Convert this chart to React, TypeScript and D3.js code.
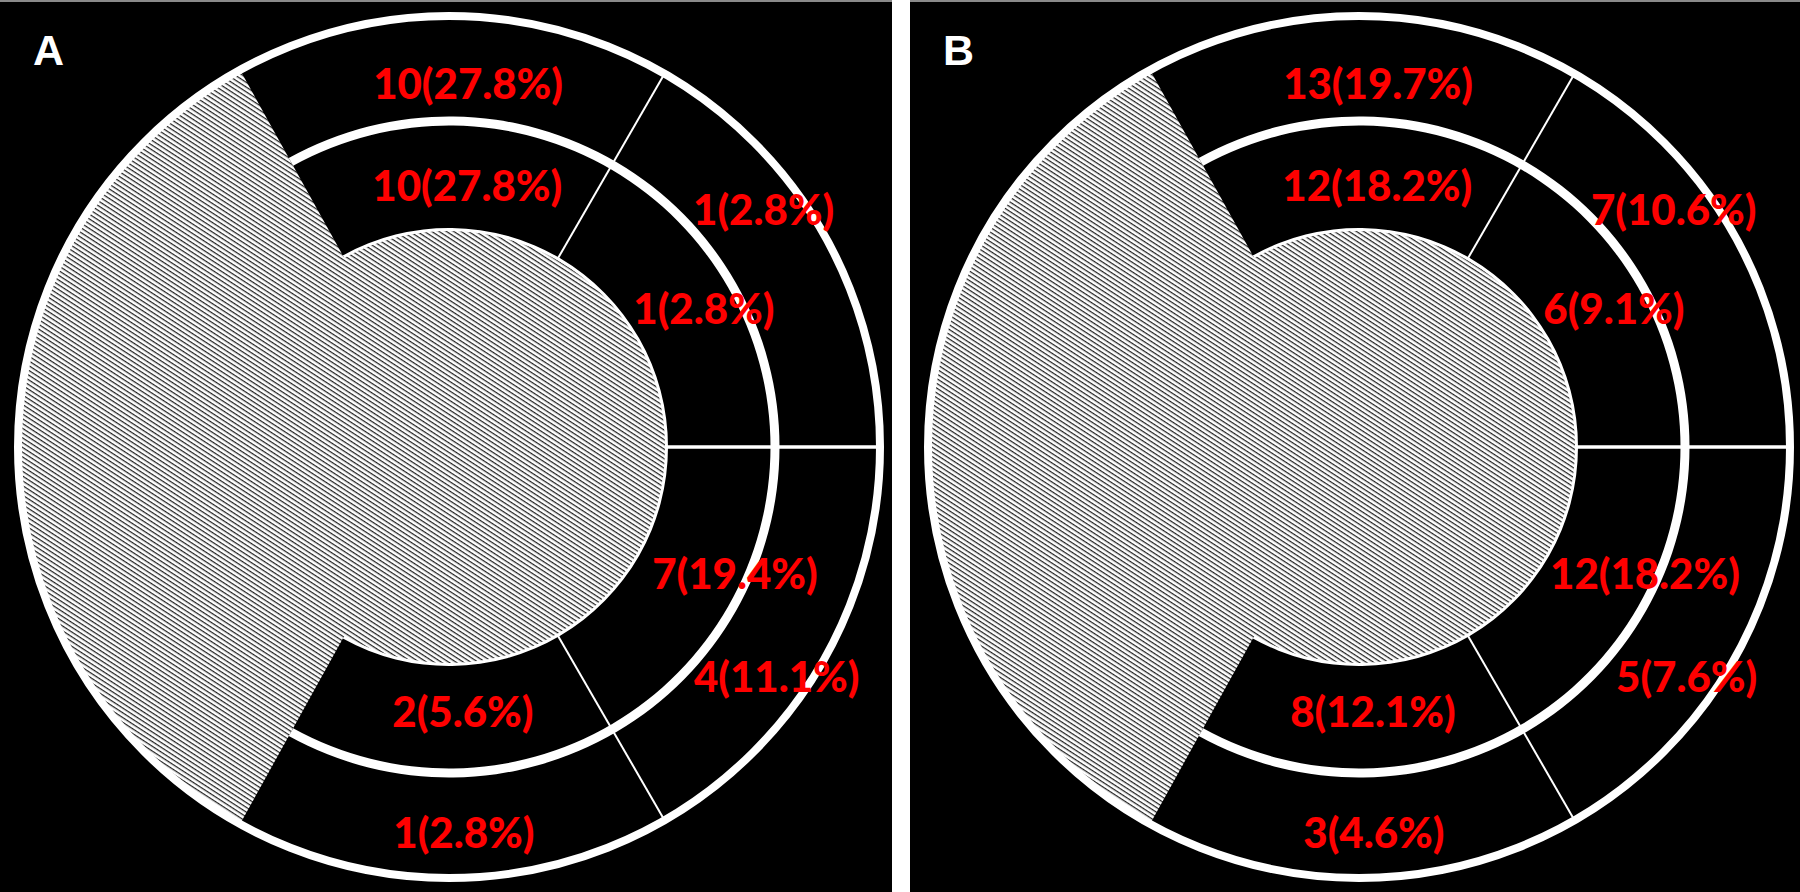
import React from "react";
import * as d3 from "d3";

// ---- data ----
const panelLetters = ["A", "B"];
const sectorNames = ["top", "upper right", "lower right", "bottom"];
const outerCountsA = [10, 1, 4, 1];
const outerPctA = [27.8, 2.8, 11.1, 2.8];
const middleCountsA = [10, 1, 7, 2];
const middlePctA = [27.8, 2.8, 19.4, 5.6];
const outerCountsB = [13, 7, 5, 3];
const outerPctB = [19.7, 10.6, 7.6, 4.6];
const middleCountsB = [12, 6, 12, 8];
const middlePctB = [18.2, 9.1, 18.2, 12.1];

// ---- layout ----
const W = 1800;
const H = 892;
const panels = [
  { x: 0, w: 892, letter: panelLetters[0], outer: outerCountsA, outerPct: outerPctA, middle: middleCountsA, middlePct: middlePctA },
  { x: 910, w: 890, letter: panelLetters[1], outer: outerCountsB, outerPct: outerPctB, middle: middleCountsB, middlePct: middlePctB },
];
const CX = 449;
const CY = 447;
const radius = d3.scaleOrdinal<string, number>().domain(["core", "middle", "outer"]).range([217, 326, 431]);
// 6 slots of 60 degrees starting at -30deg; slots 0..3 are data sectors, 4..5 hatched
const angle = d3.scaleLinear().domain([0, 6]).range([-Math.PI / 6, 2 * Math.PI - Math.PI / 6]);
const hatchInset = (1 * Math.PI) / 180; // hatched wedge edges sit ~1deg inside the slot bounds
// label anchors [angle deg, radius px]
const labelLayout: Record<string, [number, number][]> = {
  middle: [[4, 262], [61.5, 290], [114, 313], [177, 265]],
  outer: [[3, 364], [53, 394], [125, 400], [177.8, 386]],
};

const fmt = (n: number, p: number) => `${n}(${p.toFixed(1)}%)`;

function Panel({ p, idx }: { p: (typeof panels)[number]; idx: number }) {
  const arc = d3.arc<any>();
  const rCore = radius("core");
  const rMid = radius("middle");
  const rOut = radius("outer");
  const a0 = angle(0) + hatchInset;
  const a4 = angle(4) - hatchInset;
  const hatchDisc = arc({ innerRadius: 0, outerRadius: rCore, startAngle: 0, endAngle: 2 * Math.PI })!;
  const hatchWedge = arc({ innerRadius: 0, outerRadius: rOut, startAngle: a4, endAngle: a0 + 2 * Math.PI })!;
  const midLine = arc({ innerRadius: rMid - 4.5, outerRadius: rMid + 4.5, startAngle: a0, endAngle: a4 })!;
  const coreLine = arc({ innerRadius: rCore - 1, outerRadius: rCore + 2, startAngle: a0, endAngle: a4 })!;
  const dividers = [1, 2, 3].map((i) => {
    const a = angle(i);
    return {
      x1: Math.sin(a) * rCore,
      y1: -Math.cos(a) * rCore,
      x2: Math.sin(a) * rOut,
      y2: -Math.cos(a) * rOut,
      w: i === 2 ? 3.5 : 2,
    };
  });
  const labels: { text: string; x: number; y: number; key: string }[] = [];
  (["middle", "outer"] as const).forEach((ring) => {
    const counts = ring === "middle" ? p.middle : p.outer;
    const pcts = ring === "middle" ? p.middlePct : p.outerPct;
    sectorNames.forEach((s, i) => {
      const [deg, r] = labelLayout[ring][i];
      const a = (deg * Math.PI) / 180;
      labels.push({ key: ring + s, text: fmt(counts[i], pcts[i]), x: Math.sin(a) * r, y: -Math.cos(a) * r });
    });
  });
  return (
    <g transform={`translate(${p.x},0)`}>
      <rect x={0} y={0} width={p.w} height={H} fill="#000" />
      <rect x={0} y={0} width={p.w} height={2} fill="#8a8a8a" />
      <text x={33} y={65} fill="#fff" fontFamily="Liberation Sans, Arial, sans-serif" fontWeight="bold" fontSize={43}>
        {p.letter}
      </text>
      <g transform={`translate(${CX},${CY})`}>
        <path d={hatchWedge} fill={`url(#hatch${idx})`} />
        <path d={hatchDisc} fill={`url(#hatch${idx})`} />
        <path d={coreLine} fill="#fff" />
        <path d={midLine} fill="#fff" />
        <circle r={rOut} fill="none" stroke="#fff" strokeWidth={8} />
        {dividers.map((d, i) => (
          <line key={i} x1={d.x1} y1={d.y1} x2={d.x2} y2={d.y2} stroke="#fff" strokeWidth={d.w} />
        ))}
        {labels.map((l) => (
          <text
            key={l.key}
            x={l.x}
            y={l.y}
            dy="0.36em"
            textAnchor="middle"
            fill="#ff0000"
            fontFamily="Lato, Carlito, sans-serif"
            fontWeight={900}
            fontSize={42}
          >
            {l.text}
          </text>
        ))}
      </g>
    </g>
  );
}

export default function App() {
  return (
    <svg
      width={W}
      height={H}
      viewBox={`0 0 ${W} ${H}`}
      style={{ position: "absolute", left: 0, top: 0, display: "block" }}
    >
      <defs>
        {panels.map((_, i) => (
          <pattern
            key={i}
            id={`hatch${i}`}
            patternUnits="userSpaceOnUse"
            width={12}
            height={4}
            patternTransform="rotate(33)"
          >
            <rect width={12} height={4} fill="#fff" />
            <rect y={0} width={12} height={1.25} fill="#222" />
          </pattern>
        ))}
      </defs>
      <rect width={W} height={H} fill="#fff" />
      {panels.map((p, i) => (
        <Panel key={i} p={p} idx={i} />
      ))}
    </svg>
  );
}
